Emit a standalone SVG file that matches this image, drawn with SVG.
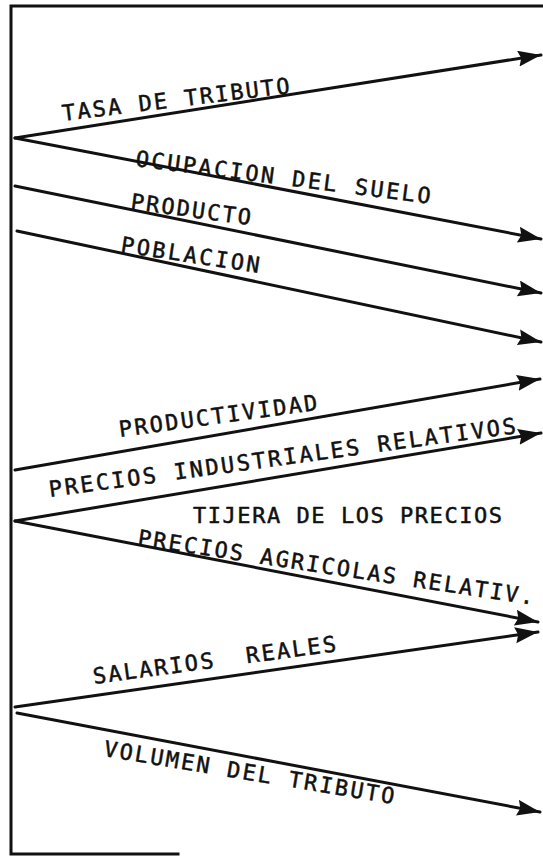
<svg xmlns="http://www.w3.org/2000/svg" width="543" height="858" viewBox="0 0 543 858">
<style>
.frame{fill:none;stroke:#111;stroke-width:3;stroke-linecap:square}
.ln{fill:none;stroke:#111;stroke-width:3;stroke-linecap:round;marker-end:url(#ah)}
.lb{font-family:"DejaVu Sans Mono","Liberation Mono",monospace;font-size:22px;fill:#111;stroke:#111;stroke-width:0.5}
</style>
<defs>
<marker id="ah" markerUnits="userSpaceOnUse" markerWidth="26" markerHeight="18" refX="23" refY="8" orient="auto">
<path d="M0,0 L23,8 L0,16 L3,8 Z" fill="#111"/>
</marker>
</defs>
<rect width="543" height="858" fill="#fff"/>
<g id="frame">
<path class="frame" d="M543,6 L11,6 L11,854 L178,854"/>
</g>
<g id="connectors">
<path class="ln" d="M15,138 L541,55"/>
<path class="ln" d="M15,138 L541,239"/>
<path class="ln" d="M15,186 L541,293"/>
<path class="ln" d="M17,231 L541,342"/>
<path class="ln" d="M15,470 L540,379"/>
<path class="ln" d="M15,521 L541,433"/>
<path class="ln" d="M15,521 L538,622"/>
<path class="ln" d="M15,707 L538,632"/>
<path class="ln" d="M17,713 L540,812"/>
</g>
<g id="tasa-de-tributo"><text class="lb" transform="translate(63,121) rotate(-7)" textLength="229" lengthAdjust="spacing">TASA DE TRIBUTO</text></g>
<g id="ocupacion-del-suelo"><text class="lb" transform="translate(135,166) rotate(7.3)" textLength="297" lengthAdjust="spacing">OCUPACION DEL SUELO</text></g>
<g id="producto"><text class="lb" transform="translate(130,209) rotate(7.6)" textLength="121" lengthAdjust="spacing">PRODUCTO</text></g>
<g id="poblacion"><text class="lb" transform="translate(120,252) rotate(8.6)" textLength="140" lengthAdjust="spacing">POBLACION</text></g>
<g id="productividad"><text class="lb" transform="translate(120,437) rotate(-7.8)" textLength="200" lengthAdjust="spacing">PRODUCTIVIDAD</text></g>
<g id="precios-industriales"><text class="lb" transform="translate(50,497) rotate(-7.8)" textLength="471" lengthAdjust="spacing">PRECIOS INDUSTRIALES RELATIVOS</text></g>
<g id="tijera"><text class="lb" x="193" y="523" textLength="309" lengthAdjust="spacing">TIJERA DE LOS PRECIOS</text></g>
<g id="precios-agricolas"><text class="lb" transform="translate(137,545) rotate(8.6)" textLength="400" lengthAdjust="spacing">PRECIOS AGRICOLAS RELATIV.</text></g>
<g id="salarios-reales"><text class="lb" transform="translate(94,684) rotate(-7.7)" textLength="245" lengthAdjust="spacing" xml:space="preserve">SALARIOS  REALES</text></g>
<g id="volumen-del-tributo"><text class="lb" transform="translate(103,756) rotate(9.4)" textLength="294" lengthAdjust="spacing">VOLUMEN DEL TRIBUTO</text></g>
</svg>
